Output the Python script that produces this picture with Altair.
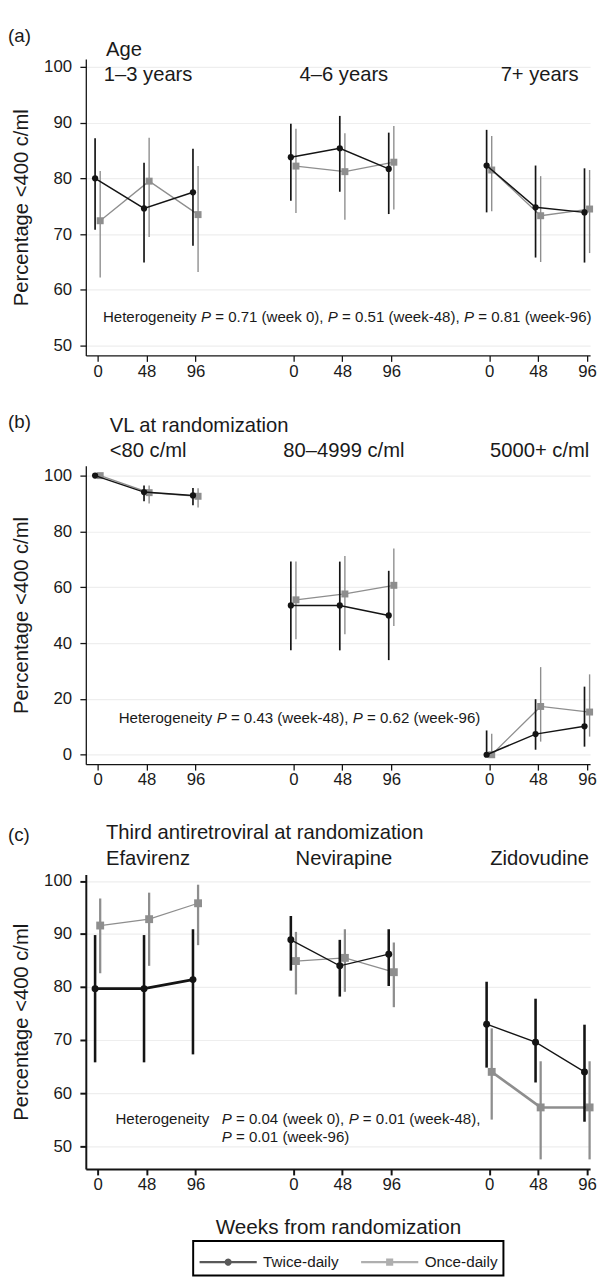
import altair as alt
import pandas as pd

ARMS = ["Twice-daily", "Once-daily"]
WEEKS = [0, 48, 96]
GROUP_STEP = 192
Y_TITLE = "Percentage <400 c/ml"
X_TITLE = "Weeks from randomization"

# ---- (a) Age ----
a_head = "Age"
a_groups = ["1–3 years", "4–6 years", "7+ years"]
a_twice_est = [80.0, 74.6, 77.5, 83.8, 85.4, 81.7, 82.3, 74.8, 73.9]
a_twice_lo = [70.8, 64.9, 67.9, 76.0, 77.6, 73.6, 73.9, 65.8, 64.9]
a_twice_hi = [87.2, 82.8, 85.3, 89.8, 91.2, 88.2, 88.7, 82.3, 81.8]
a_once_est = [72.4, 79.5, 73.5, 82.2, 81.2, 82.9, 81.5, 73.3, 74.5]
a_once_lo = [62.2, 69.5, 63.2, 73.8, 72.6, 74.4, 74.1, 65.0, 66.6]
a_once_hi = [81.3, 87.3, 82.2, 88.9, 88.1, 89.4, 87.6, 80.4, 81.5]
a_het = [[("Heterogeneity ", 0), ("P", 1), (" = 0.71 (week 0), ", 0), ("P", 1),
          (" = 0.51 (week-48), ", 0), ("P", 1), (" = 0.81 (week-96)", 0)]]

# ---- (b) VL at randomization ----
b_head = "VL at randomization"
b_groups = ["<80 c/ml", "80–4999 c/ml", "5000+ c/ml"]
b_twice_est = [100, 94.1, 92.9, 53.5, 53.5, 49.9, 0, 7.4, 10.2]
b_twice_lo = [100, 90.8, 89.4, 37.4, 37.4, 33.9, 0, 1.8, 2.9]
b_twice_hi = [100, 96.5, 95.6, 69.2, 69.2, 65.9, 8.7, 19.9, 24.4]
b_once_est = [100, 93.9, 92.6, 55.5, 57.6, 60.7, 0, 17.3, 15.3]
b_once_lo = [100, 90.0, 88.6, 41.4, 43.2, 46.1, 0, 4.7, 6.5]
b_once_hi = [100, 96.5, 95.5, 69.2, 71.2, 73.9, 7.5, 31.4, 28.8]
b_het = [[("Heterogeneity ", 0), ("P", 1), (" = 0.43 (week-48), ", 0), ("P", 1),
          (" = 0.62 (week-96)", 0)]]

# ---- (c) Third antiretroviral at randomization ----
c_head = "Third antiretroviral at randomization"
c_groups = ["Efavirenz", "Nevirapine", "Zidovudine"]
c_twice_est = [79.7, 79.7, 81.4, 88.9, 84.0, 86.2, 73.0, 69.6, 64.0]
c_twice_lo = [65.8, 65.8, 67.3, 83.1, 78.2, 80.2, 64.8, 62.0, 54.6]
c_twice_hi = [89.8, 89.8, 90.9, 93.4, 88.9, 90.9, 81.0, 77.8, 72.9]
c_once_est = [91.6, 92.8, 95.8, 84.9, 85.5, 82.8, 64.0, 57.3, 57.3]
c_once_lo = [82.6, 84.0, 87.9, 78.6, 79.1, 76.2, 55.0, 47.5, 47.5]
c_once_hi = [96.7, 97.8, 99.3, 90.4, 90.9, 88.4, 72.2, 66.0, 66.0]
c_het = [[("Heterogeneity", 0)],
         [("P", 1), (" = 0.04 (week 0), ", 0), ("P", 1), (" = 0.01 (week-48),", 0)],
         [("P", 1), (" = 0.01 (week-96)", 0)]]

FONT = "Liberation Sans"
TXT = "#1a1a1a"
BLACK = "#141414"
GRAY = "#8e8e8e"
XDOM = [-11.6, 483]
XTICKS = [g * GROUP_STEP + w for g in range(3) for w in WEEKS]
PLOT_W = 512
PX_PER_WEEK = PLOT_W / (XDOM[1] - XDOM[0])
HET_SIZE = 15.3

# Arial / Liberation Sans advance widths (per em) for laying out mixed italic text
ADV = {" ": .278, "(": .333, ")": .333, ",": .278, "-": .333, ".": .278, "=": .584,
       "H": .722, "P": .667, "e": .556, "g": .556, "i": .222, "k": .5, "n": .556,
       "o": .556, "r": .333, "t": .278, "w": .722, "y": .5}


def adv(s):
    return sum(ADV.get(ch, .556) for ch in s) * HET_SIZE


PATH_DOT = ("M-1,0L2.87,0 "
            "M1.1,0A0.1667,0.1667 0 1,1 0.7667,0A0.1667,0.1667 0 1,1 1.1,0 "
            "M1.0333,0A0.1,0.1 0 1,1 0.8333,0A0.1,0.1 0 1,1 1.0333,0 "
            "M0.9667,0A0.0333,0.0333 0 1,1 0.9,0A0.0333,0.0333 0 1,1 0.9667,0")
PATH_SQ = ("M-1,0L2.87,0 "
           "M0.7667,-0.1667H1.1V0.1667H0.7667Z "
           "M0.8333,-0.1H1.0333V0.1H0.8333Z "
           "M0.9,-0.0333H0.9667V0.0333H0.9Z")


def long_df(te, tl, th, oe, ol, oh):
    rows = []
    for arm, est, lo, hi in ((ARMS[0], te, tl, th), (ARMS[1], oe, ol, oh)):
        for i, (e, l, h) in enumerate(zip(est, lo, hi)):
            rows.append({"arm": arm, "group": i // 3, "week": WEEKS[i % 3],
                         "est": e, "lo": l, "hi": h})
    return pd.DataFrame(rows)


def het_rows(lines, anchors):
    rows = []
    for segs, (x0, y0) in zip(lines, anchors):
        off = 0.0
        for text, italic in segs:
            lead = len(text) - len(text.lstrip(" "))
            body = text.strip(" ")
            pos = off + adv(" " * lead)
            rows.append({"tx": x0 + pos / PX_PER_WEEK, "ty": y0, "text": body,
                         "italic": italic})
            off += adv(text)
    return pd.DataFrame(rows)


def build(df, tag, head, head_pos, groups, glabel_y, het, ydom, yticks, height,
          xtitle=None, legend=False, thick=False):
    dw = 2.0 if thick else 1.3
    xaxis = alt.Axis(values=XTICKS, labelExpr=f"datum.value % {GROUP_STEP}", grid=False,
                     domainWidth=dw, tickWidth=dw, labelPadding=2, titlePadding=24,
                     titleFontSize=21)
    yaxis = alt.Axis(values=yticks, grid=True, domainWidth=dw, tickWidth=dw,
                     labelPadding=8.5, titlePadding=12)
    xs = alt.Scale(domain=XDOM, nice=False, zero=False)
    ys = alt.Scale(domain=ydom, nice=False, zero=False)

    def X(f):
        return alt.X(f, type="quantitative", scale=xs, axis=xaxis, title=xtitle)

    def Y(f):
        return alt.Y(f, type="quantitative", scale=ys, axis=yaxis, title=Y_TITLE)

    base = alt.Chart(df).transform_calculate(
        xpos=f"datum.group * {GROUP_STEP} + datum.week + (datum.arm == 'Once-daily' ? 2.5 : -2.5)"
    )
    layers = []
    specs = [
        (ARMS[1], GRAY, "square", 64 if thick else 50, 2.3 if thick else 1.4, 2),
        (ARMS[0], BLACK, "circle", 50 if thick else 40, 2.6 if thick else 1.7, 0),
    ]
    for arm, color, shape, size, cw, thick_group in specs:
        sub = base.transform_filter(alt.datum.arm == arm)
        layers.append(sub.mark_rule(color=color, strokeWidth=cw).encode(
            x=X("xpos"), y=Y("lo"), y2=alt.Y2("hi")))
        if thick:
            sw = alt.condition(f"datum.group == {thick_group}", alt.value(2.6), alt.value(1.3))
        else:
            sw = alt.value(1.5 if arm == ARMS[0] else 1.3)
        layers.append(sub.mark_line(color=color).encode(
            x=X("xpos"), y=Y("est"), detail="group:N", strokeWidth=sw))
        layers.append(sub.mark_point(shape=shape, filled=True, size=size, color=color,
                                     opacity=1).encode(x=X("xpos"), y=Y("est")))

    # subgroup labels, centred over week 48 of each block
    gdf = pd.DataFrame({"label": groups, "group": [0, 1, 2]})
    if isinstance(glabel_y, str):
        gdf["ty"] = float(glabel_y)
        ych = Y("ty")
    else:
        ych = alt.value(glabel_y)
    gch = alt.Chart(gdf).transform_calculate(gx=f"datum.group * {GROUP_STEP} + 49.5")
    layers.append(gch.mark_text(fontSize=20.5, align="center", baseline="alphabetic",
                                color=TXT).encode(x=X("gx"), y=ych, text="label:N"))

    # panel tag and heading
    layers.append(alt.Chart(pd.DataFrame({"t": [tag]})).mark_text(
        fontSize=19, align="left", baseline="alphabetic", color=TXT).encode(
        text="t:N", x=alt.value(-79), y=alt.value(head_pos[0])))
    layers.append(alt.Chart(pd.DataFrame({"t": [head]})).mark_text(
        fontSize=20.5, align="left", baseline="alphabetic", color=TXT).encode(
        text="t:N", x=alt.value(head_pos[2]), y=alt.value(head_pos[1])))

    # heterogeneity notes (italic P)
    lines, anchors = het
    hdf = het_rows(lines, anchors)
    for it in (0, 1):
        layers.append(alt.Chart(hdf[hdf["italic"] == it]).mark_text(
            fontSize=HET_SIZE, align="left", baseline="alphabetic", color=TXT,
            fontStyle="italic" if it else "normal").encode(
            x=X("tx"), y=Y("ty"), text="text:N"))

    if legend:
        leg = alt.Legend(title=None, orient="none", legendX=109, legendY=372,
                         direction="horizontal", columns=2, symbolSize=900,
                         symbolStrokeWidth=2.2, labelFontSize=15.5, labelFont=FONT,
                         labelColor=TXT, labelOffset=33, columnPadding=18, padding=5,
                         strokeColor="black")
        layers.append(base.transform_filter("false").mark_point(filled=False).encode(
            x=X("xpos"), y=Y("est"),
            color=alt.Color("arm:N", scale=alt.Scale(domain=ARMS, range=[BLACK, GRAY]),
                            legend=leg),
            shape=alt.Shape("arm:N", scale=alt.Scale(domain=ARMS, range=[PATH_DOT, PATH_SQ]),
                            legend=leg)))

    return alt.layer(*layers).properties(width=PLOT_W, height=height)


df_a = long_df(a_twice_est, a_twice_lo, a_twice_hi, a_once_est, a_once_lo, a_once_hi)
df_b = long_df(b_twice_est, b_twice_lo, b_twice_hi, b_once_est, b_once_lo, b_once_hi)
df_c = long_df(c_twice_est, c_twice_lo, c_twice_hi, c_once_est, c_once_lo, c_once_hi)

pa = build(df_a, "(a)", a_head, (-17.6, -3.3, 20.5), a_groups, "97.5",
           (a_het, [(5.2, 54.2)]), [48.24, 101.41], [50, 60, 70, 80, 90, 100], 301)
pb = build(df_b, "(b)", b_head, (-38.3, -34.6, 24.3), b_groups, -9.3,
           (b_het, [(20.6, 11.5)]), [-3.39, 103.53], [0, 20, 40, 60, 80, 100], 303)
pc = build(df_c, "(c)", c_head, (-33.7, -36, 20.5), c_groups, -9.4,
           (c_het, [(17.5, 54.1), (121.7, 54.1), (121.7, 50.8)]),
           [45.68, 101.22], [50, 60, 70, 80, 90, 100], 299,
           xtitle=X_TITLE, legend=True, thick=True)

chart = alt.vconcat(pa, pb, pc, spacing=112, bounds="flush").resolve_scale(
    color="independent", shape="independent"
).properties(
    padding={"left": 0, "top": 9, "right": 0, "bottom": 0}
).configure_view(stroke=None).configure_axis(
    labelFont=FONT, titleFont=FONT, labelFontSize=17, titleFontSize=20.5,
    titleFontWeight="normal", labelColor=TXT, titleColor=TXT, domainColor=BLACK,
    tickColor=BLACK, tickSize=6, gridColor="#eeeeee", gridWidth=1.2
).configure_legend(strokeWidth=2).configure_text(font=FONT)

chart.save("out.html", embed_options={"renderer": "svg", "actions": False})
